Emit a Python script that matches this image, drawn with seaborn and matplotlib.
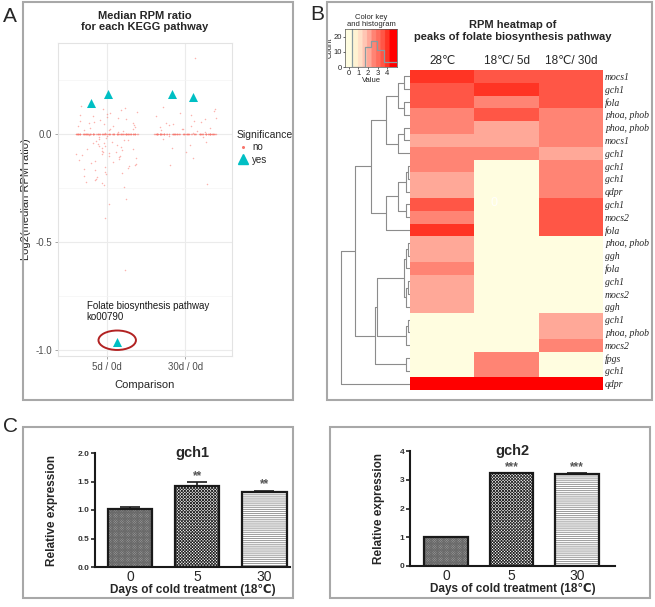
import numpy as np
import pandas as pd
import seaborn as sns
import matplotlib.pyplot as plt
from matplotlib.colors import ListedColormap
from matplotlib.lines import Line2D
from matplotlib.patches import Rectangle, Ellipse

# ---------------- A: log2(median RPM ratio) for each KEGG pathway
comparisons = ["5d / 0d", "30d / 0d"]
ratio_5d = [0.128, 0.121, 0.117, 0.109, 0.103, 0.098, 0.094, 0.088, 0.083, 0.079,
            0.072, 0.068, 0.066, 0.061, 0.057, 0.052, 0.049, 0.046, 0.041, 0.038,
            0.035, 0.031, 0.027, 0.024, 0.021, 0.018, 0.016, 0.012, 0.009, 0.006,
            -0.007, -0.011, -0.014, -0.019, -0.022, -0.026, -0.029, -0.033, -0.036, -0.041,
            -0.043, -0.047, -0.052, -0.054, -0.058, -0.061, -0.064, -0.068, -0.071, -0.074,
            -0.078, -0.082, -0.084, -0.088, -0.091, -0.093, -0.097, -0.102, -0.104, -0.109,
            -0.113, -0.116, -0.121, -0.124, -0.131, -0.134, -0.138, -0.143, -0.149, -0.152,
            -0.158, -0.163, -0.168, -0.176, -0.181, -0.187, -0.194, -0.201, -0.207, -0.214,
            -0.221, -0.229, -0.236, -0.247, -0.302, -0.326, -0.391, -0.628]
ratio_30d = [0.352, 0.124, 0.115, 0.104, 0.097, 0.088, 0.081, 0.074, 0.069, 0.061,
             0.055, 0.049, 0.046, 0.041, 0.037, 0.033, 0.028, 0.024, 0.021, 0.017,
             0.013, 0.009, 0.006, -0.008, -0.015, -0.024, -0.038, -0.051, -0.066,
             -0.083, -0.112, -0.142, -0.231]
zeros_5d = 120     # pathways whose median ratio is exactly 0
zeros_30d = 110
sig_5d = [0.143, 0.185, -0.963]
sig_30d = [0.171, 0.187]

# ---------------- B: RPM heatmap of folate biosynthesis peaks
conditions = ["28℃", "18℃/ 5d", "18℃/ 30d"]
peak_genes = ["mocs1", "gch1", "fola", "phoa, phob", "phoa, phob", "mocs1", "gch1",
              "gch1", "gch1", "qdpr", "gch1", "mocs2", "fola", "phoa, phob", "ggh",
              "fola", "gch1", "mocs2", "ggh", "gch1", "phoa, phob", "mocs2", "fpgs",
              "gch1", "qdpr"]
rpm_28 = [4.1, 3.5, 3.4, 2.7, 2.6, 2.2, 2.5, 2.6, 2.1, 2.0, 3.6, 2.7, 4.2,
          2.1, 2.0, 2.6, 2.2, 2.1, 2.0, 0, 0, 0, 0, 0, 4.6]
rpm_5d = [3.5, 4.0, 2.5, 3.4, 2.0, 2.1, 2.6, 0, 0, 0, 0, 0, 0,
          0, 0, 0, 0, 0, 0, 0, 0, 0, 2.6, 2.7, 4.6]
rpm_30d = [3.4, 3.5, 3.6, 2.6, 2.7, 2.5, 2.2, 2.6, 2.5, 2.7, 3.5, 3.6, 3.5,
           0, 0, 0, 0, 0, 0, 2.1, 2.2, 2.6, 0, 0, 4.6]
# row dendrogram, scipy style: (left id, right id, height); new nodes get ids 25, 26, ...
row_linkage = [(0, 1, 6.5), (2, 3, 6.5), (25, 26, 12), (4, 5, 6.5), (28, 6, 12),
               (27, 29, 24), (7, 8, 2), (31, 9, 4), (10, 11, 4), (32, 33, 12),
               (34, 12, 24), (30, 35, 39), (13, 14, 2), (37, 15, 4), (16, 17, 2),
               (39, 18, 4), (38, 40, 6.5), (19, 20, 2), (42, 21, 4), (22, 23, 4),
               (41, 43, 33), (45, 44, 35), (36, 46, 55), (47, 24, 69)]
key_colors = ["#FFFDE0", "#FFF3D2", "#FFE0C8", "#FFC6B4", "#FFA898",
              "#FF8474", "#FF6E5E", "#FF5646", "#FF3424", "#FF0000"]
key_bins = [-0.3, 0.35, 1.0, 1.65, 2.3, 2.95, 3.65, 4.3, 4.95]

# ---------------- C: qPCR, relative expression
days = ["0", "5", "30"]
gch1_mean = [1.02, 1.42, 1.32]
gch1_sem = [0.03, 0.07, 0.02]
gch1_stars = ["", "**", "**"]
gch2_mean = [1.0, 3.22, 3.20]
gch2_sem = [0.01, 0.02, 0.03]
gch2_stars = ["", "***", "***"]

W, H = 655, 607
sns.set_style("white")
plt.rcParams["font.family"] = ["Liberation Sans", "DejaVu Sans"]
plt.rcParams["hatch.linewidth"] = 0.6


def box(x0, y0, x1, y1):
    # pixel box -> figure fraction
    return [x0 / W, 1 - y1 / H, (x1 - x0) / W, (y1 - y0) / H]


fig = plt.figure(figsize=(W / 100, H / 100), dpi=100)

for x0, y0, x1, y1 in [(23, 2, 293, 400), (327, 2, 652, 400),
                       (23, 427, 293, 598), (330, 427, 650, 598)]:
    fig.add_artist(Rectangle((x0 / W, 1 - y1 / H), (x1 - x0) / W, (y1 - y0) / H,
                             transform=fig.transFigure, fill=False,
                             ec="#A8A8A8", lw=1.5))
for lab, x, y in [("A", 3, 22), ("B", 310, 20), ("C", 3, 432)]:
    fig.text(x / W, 1 - y / H, lab, fontsize=15)

# ---------------- panel A
axA = fig.add_axes(box(58, 43, 232, 356))
dfA = pd.DataFrame({
    "Comparison": [comparisons[0]] * (len(ratio_5d) + zeros_5d)
                  + [comparisons[1]] * (len(ratio_30d) + zeros_30d),
    "ratio": ratio_5d + [0.0] * zeros_5d + ratio_30d + [0.0] * zeros_30d,
})
dfS = pd.DataFrame({
    "Comparison": [comparisons[0]] * len(sig_5d) + [comparisons[1]] * len(sig_30d),
    "ratio": sig_5d + sig_30d,
})
np.random.seed(7)
sns.stripplot(data=dfA, x="Comparison", y="ratio", order=comparisons, jitter=0.4,
              size=1.1, color="#F8766D", alpha=0.55, linewidth=0, ax=axA)
n_before = len(axA.collections)
sns.stripplot(data=dfS, x="Comparison", y="ratio", order=comparisons, jitter=0.22,
              size=6.5, marker="^", color="#00BFC4", linewidth=0, ax=axA)
pts = np.vstack([c.get_offsets() for c in axA.collections[n_before:]])
fx, fy = pts[np.argmin(pts[:, 1])]
axA.add_patch(Ellipse((fx, fy + 0.008), 0.48, 0.09, fill=False, ec="#B22222", lw=1.4))
axA.text(-0.26, fy + 0.14, "Folate biosynthesis pathway\nko00790", fontsize=7,
         va="center", ha="left", color="#1A1A1A", linespacing=1.1)

axA.set_xlim(-0.63, 1.6)
axA.set_ylim(-1.028, 0.421)
axA.set_yticks([-1.0, -0.5, 0.0])
axA.set_yticklabels(["-1.0", "-0.5", "0.0"])
axA.set_yticks([-0.75, -0.25, 0.25], minor=True)
axA.set_axisbelow(True)
axA.grid(True, which="major", color="#EBEBEB", lw=0.8)
axA.grid(True, which="minor", axis="y", color="#F4F4F4", lw=0.5)
for s in axA.spines.values():
    s.set_color("#E3E3E3")
    s.set_linewidth(0.8)
axA.tick_params(axis="both", which="major", length=2.5, width=0.6, color="#999999",
                labelsize=7, labelcolor="#4D4D4D", pad=2, left=True, bottom=True)
axA.tick_params(which="minor", length=0)
axA.set_xlabel("Comparison", fontsize=8)
axA.set_ylabel("Log2(median RPM ratio)", fontsize=8)
axA.xaxis.set_label_coords(0.5, -0.077)
axA.yaxis.set_label_coords(-0.155, 0.5)
axA.set_title("Median RPM ratio\nfor each KEGG pathway", fontsize=8, fontweight="bold",
              pad=9, linespacing=1.2)

handles = [Line2D([], [], ls="", marker="o", ms=1.2, color="#F8766D"),
           Line2D([], [], ls="", marker="^", ms=7, color="#00BFC4")]
leg = fig.legend(handles, ["no", "yes"], title="Significance", loc="upper left",
                 bbox_to_anchor=(232 / W, 1 - 125 / H), frameon=False, fontsize=7,
                 title_fontsize=7.5, handlelength=1.2, handletextpad=0.4,
                 borderpad=0, labelspacing=0.25)
leg._legend_box.align = "left"

# ---------------- panel B
cmap = ListedColormap(key_colors)
rpm = pd.DataFrame(dict(zip(conditions, [rpm_28, rpm_5d, rpm_30d])))
axH = fig.add_axes(box(410, 70, 603, 390))
sns.heatmap(rpm, cmap=cmap, vmin=0, vmax=4.7, cbar=False, ax=axH,
            xticklabels=conditions, yticklabels=peak_genes)
axH.xaxis.tick_top()
axH.yaxis.tick_right()
axH.tick_params(length=0, pad=2)
axH.set_xticklabels(conditions, fontsize=8.5, rotation=0)
axH.set_yticklabels(peak_genes, rotation=0, fontsize=7, fontstyle="italic",
                    family=["Liberation Serif", "DejaVu Serif"])
axH.tick_params(axis="y", pad=1.5)
axH.set_xlabel("")
axH.set_ylabel("")
axH.text(1.3, 10.4, "0", color="white", fontsize=9, ha="center", va="center", alpha=0.9)
fig.text(513 / W, 1 - 31 / H, "RPM heatmap of\npeaks of folate biosynthesis pathway",
         ha="center", va="center", fontsize=8, fontweight="bold", linespacing=1.25)

axD = fig.add_axes(box(333, 70, 410, 390))
n = len(peak_genes)
pos = {i: i + 0.5 for i in range(n)}
hgt = {i: 0.0 for i in range(n)}
for k, (a, b, h) in enumerate(row_linkage):
    for c in (a, b):
        axD.plot([-hgt[c], -h], [pos[c], pos[c]], color="#8C8C8C", lw=0.8)
    axD.plot([-h, -h], [pos[a], pos[b]], color="#8C8C8C", lw=0.8)
    pos[n + k] = (pos[a] + pos[b]) / 2
    hgt[n + k] = h
axD.set_ylim(n, 0)
axD.set_xlim(-77, 0)
axD.axis("off")

axK = fig.add_axes(box(345, 29, 397, 67))
key_x = np.linspace(-0.4, 5.0, 300)
axK.imshow(key_x[None, :], extent=(-0.4, 5.0, 0, 25), aspect="auto", cmap=cmap,
           vmin=0, vmax=4.7, origin="lower")
all_vals = np.concatenate([rpm_28, rpm_5d, rpm_30d])
sns.histplot(x=all_vals, bins=key_bins, element="step", fill=False,
             color="#8A9CA0", lw=0.9, ax=axK)
axK.set_xlim(-0.4, 5.0)
axK.set_ylim(0, 25)
axK.set_xticks([0, 1, 2, 3, 4])
axK.set_yticks([0, 10, 20])
axK.tick_params(labelsize=5.5, length=1.5, width=0.5, pad=0.5, left=True, bottom=True)
axK.set_xlabel("Value", fontsize=5.5, labelpad=0)
axK.set_ylabel("Count", fontsize=5.5, labelpad=0)
for s in axK.spines.values():
    s.set_linewidth(0.5)
    s.set_color("#555555")
axK.set_title("Color key\nand histogram", fontsize=5.5, pad=2, linespacing=1.1)

# ---------------- panel C
bar_faces = ["#A3A3A3", "#FFFFFF", "#FFFFFF"]
bar_hatch = ["x" * 14, "x" * 11, "-" * 8]
hatch_cols = ["#6A6A6A", "#2A2A2A", "#8A8A8A"]


def expr_bars(ax, mean, sem, stars, top, ticks, labels, title):
    df = pd.DataFrame({"Day": days, "Expression": mean})
    sns.barplot(data=df, x="Day", y="Expression", order=days, width=0.66,
                color="white", errorbar=None, ax=ax)
    for p, fc, hh, hc in zip(ax.patches, bar_faces, bar_hatch, hatch_cols):
        p.set_facecolor(fc)
        p.set_hatch(hh)
        p.set_edgecolor(hc)
        p.set_linewidth(0)
        ax.add_patch(Rectangle((p.get_x(), p.get_y()), p.get_width(), p.get_height(),
                               fill=False, ec="#1A1A1A", lw=1.6, zorder=3))
    ax.errorbar(range(len(days)), mean, yerr=[np.zeros(len(sem)), sem], fmt="none",
                ecolor="#1A1A1A", elinewidth=1.2, capsize=7, capthick=1.2, zorder=4)
    for i, (m, e, s) in enumerate(zip(mean, sem, stars)):
        ax.text(i, m + e, s, ha="center", va="bottom", fontsize=8.5,
                color="#555555", fontweight="bold")
    ax.set_ylim(0, top)
    ax.set_yticks(ticks)
    ax.set_yticklabels(labels)
    sns.despine(ax=ax)
    for s in ("left", "bottom"):
        ax.spines[s].set_linewidth(1.5)
        ax.spines[s].set_color("#1A1A1A")
    ax.tick_params(axis="y", length=3, width=1.2, labelsize=6, labelcolor="#333333",
                   pad=1, left=True)
    ax.tick_params(axis="x", length=0, labelsize=10, pad=2)
    for t in ax.get_yticklabels():
        t.set_fontweight("bold")
    ax.set_xlabel("Days of cold treatment (18℃)", fontsize=8.5, fontweight="bold",
                  labelpad=0)
    ax.set_ylabel("Relative expression", fontsize=8.5, fontweight="bold")
    ax.text(0.5, 1.0, title, transform=ax.transAxes, ha="center", va="center",
            fontsize=10.5, fontweight="bold")


axC1 = fig.add_axes(box(95, 453, 290, 567))
expr_bars(axC1, gch1_mean, gch1_sem, gch1_stars, 2.0, [0, 0.5, 1.0, 1.5, 2.0],
          ["0.0", "0.5", "1.0", "1.5", "2.0"], "gch1")
axC1.set_xlim(-0.52, 2.38)
axC1.yaxis.set_label_coords(-0.19, 0.5)

axC2 = fig.add_axes(box(410, 451, 615, 566))
expr_bars(axC2, gch2_mean, gch2_sem, gch2_stars, 4, [0, 1, 2, 3, 4],
          ["0", "1", "2", "3", "4"], "gch2")
axC2.set_xlim(-0.55, 2.58)
axC2.yaxis.set_label_coords(-0.12, 0.5)

fig.savefig("out.png", dpi=100)
